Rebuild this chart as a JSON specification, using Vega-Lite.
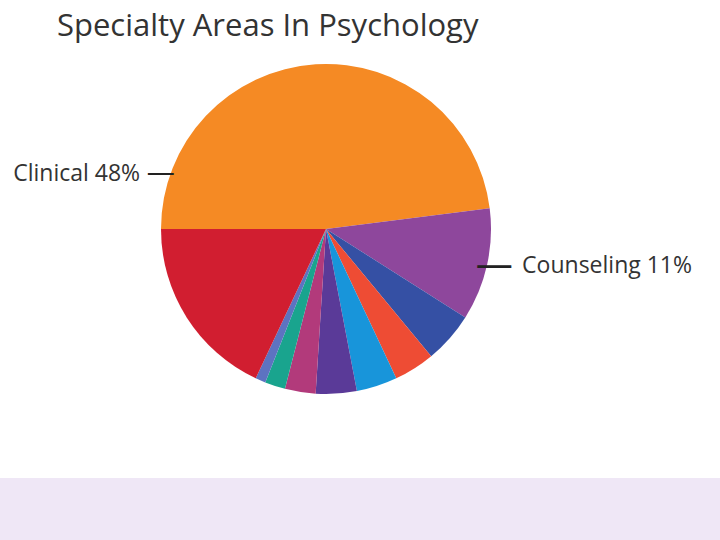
{
  "$schema": "https://vega.github.io/schema/vega-lite/v6.json",
  "width": 720,
  "height": 478,
  "autosize": {"type": "none"},
  "padding": {"left": 0, "top": 0, "right": 0, "bottom": 62},
  "background": "#EFE7F6",
  "view": {"fill": "white", "stroke": null},
  "title": {
    "text": "Specialty Areas In Psychology",
    "anchor": "start",
    "dx": 57,
    "offset": -43,
    "fontSize": 31,
    "font": "Open Sans",
    "fontWeight": "normal",
    "color": "#333333"
  },
  "data": {
    "values": [
      {"area": "Clinical", "pct": 48, "rank": 1},
      {"area": "Counseling", "pct": 11, "rank": 2},
      {"area": "Developmental", "pct": 5, "rank": 3},
      {"area": "Educational", "pct": 4, "rank": 4},
      {"area": "Experimental", "pct": 4, "rank": 5},
      {"area": "Industrial/Organizational", "pct": 4, "rank": 6},
      {"area": "Social", "pct": 3, "rank": 7},
      {"area": "School", "pct": 2, "rank": 8},
      {"area": "Health", "pct": 1, "rank": 9},
      {"area": "Other", "pct": 18, "rank": 10}
    ]
  },
  "layer": [
    {
      "mark": {"type": "arc", "outerRadius": 165, "xOffset": -34, "yOffset": -10},
      "encoding": {
        "theta": {"field": "pct", "type": "quantitative", "stack": true, "scale": {"range": [4.71239, 10.99557]}},
        "order": {"field": "rank", "type": "quantitative"},
        "color": {
          "field": "area",
          "type": "nominal",
          "legend": null,
          "scale": {
            "domain": ["Clinical", "Counseling", "Developmental", "Educational", "Experimental", "Industrial/Organizational", "Social", "School", "Health", "Other"],
            "range": ["#F58A24", "#8E479C", "#3550A4", "#EE4C34", "#1895DA", "#5A3A98", "#B23A7B", "#19A48E", "#5D73C1", "#D11E30"]
          }
        }
      }
    },
    {
      "transform": [
        {"filter": "datum.area === 'Clinical'"},
        {"calculate": "datum.area + ' ' + datum.pct + '%'", "as": "label"}
      ],
      "mark": {"type": "text", "theta": 4.9649, "radius": 192, "align": "right", "baseline": "alphabetic", "xOffset": -34, "yOffset": -10, "fontSize": 23, "font": "Open Sans", "color": "#333333"},
      "encoding": {"text": {"field": "label"}}
    },
    {
      "transform": [{"filter": "datum.area === 'Clinical'"}],
      "mark": {"type": "text", "theta": 4.995, "radius": 172, "align": "center", "baseline": "alphabetic", "xOffset": -34, "yOffset": -10, "fontSize": 28, "font": "Open Sans", "color": "#222222"},
      "encoding": {"text": {"value": "\u2014"}}
    },
    {
      "transform": [
        {"filter": "datum.area === 'Counseling'"},
        {"calculate": "datum.area + ' ' + datum.pct + '%'", "as": "label"}
      ],
      "mark": {"type": "text", "theta": 1.7916, "radius": 201, "align": "left", "baseline": "alphabetic", "xOffset": -34, "yOffset": -10, "fontSize": 23, "font": "Open Sans", "color": "#333333"},
      "encoding": {"text": {"field": "label"}}
    },
    {
      "transform": [{"filter": "datum.area === 'Counseling'"}],
      "mark": {"type": "text", "theta": 1.8516, "radius": 175, "align": "center", "baseline": "alphabetic", "xOffset": -34, "yOffset": -10, "fontSize": 37, "font": "Open Sans", "color": "#222222"},
      "encoding": {"text": {"value": "\u2014"}}
    }
  ],
  "config": {"view": {"stroke": null, "fill": "white"}}
}
